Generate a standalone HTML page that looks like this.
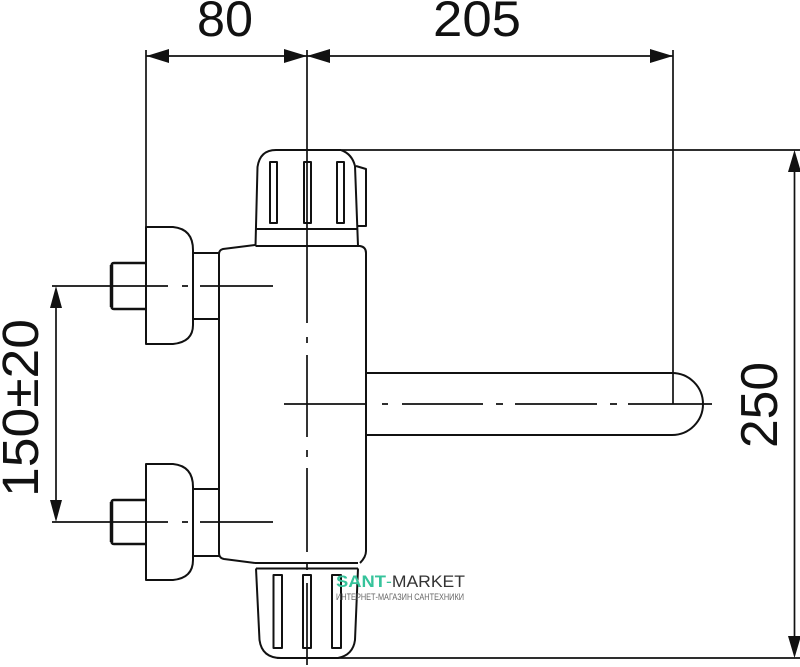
<!DOCTYPE html>
<html><head><meta charset="utf-8"><style>html,body{margin:0;padding:0;background:#fff}svg{display:block}</style></head>
<body>
<svg xmlns="http://www.w3.org/2000/svg" width="800" height="667" viewBox="0 0 800 667">
<g fill="none" stroke="#111" stroke-width="2" stroke-linejoin="round">
<!-- top knob -->
<path d="M255.500 246L257.500 167Q260 150 276 150H341Q352 154 355 166L358 246"/>
<path d="M255.500 229H358M255.500 246H358"/>
<path d="M270 162H277V223H270ZM304 162H311V223H304ZM337 162H344V223H337Z"/>
<path d="M356 166L366 169V226H358"/>
<!-- body -->
<path d="M358 246H360Q366 247 366 253V551Q366 557 360 563"/>
<path d="M255 245L223 249Q219 250 219 254V553Q219 558 224 559L255 563"/>
<!-- bottom knob -->
<path d="M255 563H358M256 568.500H358"/>
<path d="M256 568.500L259.500 640Q262 658 281 658H338Q353 655 355 640L358 568.500"/>
<path d="M273.500 575H282V648H273.500ZM303 575H311V648H303ZM332 575H341V648H332Z"/>
<!-- upper connector -->
<path d="M146 227H173Q193 229 193 250V325Q193 342 173 344H146Z"/>
<path d="M193 253H219M193 319H219"/>
<path d="M146 263H114Q111.500 263 111.500 266V306Q111.500 309 114 309H146" stroke-width="2.500"/>
<path d="M111.500 265V307" stroke-width="3.500"/>
<!-- lower connector -->
<path d="M146 464H173Q193 466 193 487V560Q193 578 173 580H146Z"/>
<path d="M193 489H219M193 556H219"/>
<path d="M146 500H114Q111.500 500 111.500 503V541Q111.500 544 114 544H146" stroke-width="2.500"/>
<path d="M111.500 502V542" stroke-width="3.500"/>
<!-- tube -->
<path d="M366 373H672A31 31 0 0 1 672 435H366"/>
</g>
<g fill="none" stroke="#111" stroke-width="1.700">
<!-- center lines -->
<path d="M52 286H168M182 286H188M200 286H273"/>
<path d="M52 522H168M182 522H188M200 522H273"/>
<path d="M284 404H367M382 404H388M402 404H483M496 404H503M515 404H597M610 404H617M628 404H712"/>
<path d="M307 50V323M307 337V343M307 355V437M307 450V457M307 468V552M307 563V570M307 583V665"/>
<!-- dimension lines -->
<path d="M146 56H673M146 50V227M673 50V404"/>
<path d="M342 150H800M277 658H800"/>
<path d="M56 290V518M794.500 154V654"/>
</g>
<path d="M146.500 56L169 49V63ZM307 56L284 49V63ZM307 56L330 49V63ZM673 56L650 49V63Z" fill="#111"/>
<path d="M56 286L50 308H62ZM56 522L50 500H62Z" fill="#111"/>
<path d="M794.500 150L788 172H801ZM794.500 658L788 636H801Z" fill="#111"/>
<g font-family="'Liberation Sans',sans-serif" fill="#111">
<text x="197" y="36" font-size="50" textLength="56" lengthAdjust="spacingAndGlyphs">80</text>
<text x="433" y="36" font-size="50" textLength="88" lengthAdjust="spacingAndGlyphs">205</text>
<text transform="translate(777,448) rotate(-90)" font-size="52" textLength="86" lengthAdjust="spacingAndGlyphs">250</text>
<text transform="translate(38,497) rotate(-90)" font-size="51" textLength="178" lengthAdjust="spacingAndGlyphs">150±20</text>
</g>
<g font-family="'Liberation Sans',sans-serif">
<text x="336" y="587" font-size="17" font-weight="700" fill="#36c39b" textLength="50" lengthAdjust="spacingAndGlyphs">SANT</text>
<text x="386" y="587" font-size="17" fill="#333" textLength="79" lengthAdjust="spacingAndGlyphs"><tspan fill="#36c39b">-</tspan>MARKET</text>
<text x="336" y="600" font-size="9" fill="#666" textLength="128" lengthAdjust="spacingAndGlyphs">ИНТЕРНЕТ-МАГАЗИН САНТЕХНИКИ</text>
</g>
</svg>
</body></html>
